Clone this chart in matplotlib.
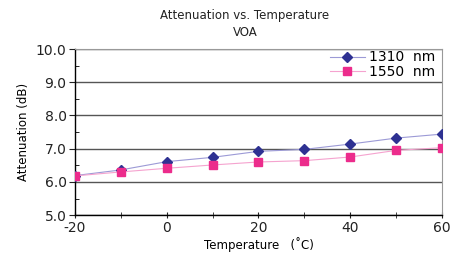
import matplotlib
matplotlib.use("Agg")
import matplotlib.pyplot as plt
from matplotlib.ticker import MultipleLocator

temps = [-20, -10, 0, 10, 20, 30, 40, 50, 60]
att_1310 = [6.19, 6.36, 6.61, 6.74, 6.92, 6.98, 7.14, 7.32, 7.44]
att_1550 = [6.18, 6.30, 6.41, 6.51, 6.60, 6.64, 6.75, 6.95, 7.03]
labels = ["1310  nm", "1550  nm"]
xticks = [-20, 0, 20, 40, 60]
xticklabels = ["-20", "0", "20", "40", "60"]
yticks = [5, 6, 7, 8, 9, 10]
yticklabels = ["5.0", "6.0", "7.0", "8.0", "9.0", "10.0"]

plt.rcParams['font.family'] = ['DejaVu Sans']
plt.rcParams['axes.unicode_minus'] = False
fig = plt.figure(figsize=(4.62, 2.57), dpi=100)
ax = fig.add_axes([0.162, 0.163, 0.795, 0.646])

ax.plot(temps, att_1310, color='#9c9ad6', lw=0.8, marker='D', ms=5,
        mfc='#2e3192', mec='#2e3192', label=labels[0], zorder=3)
ax.plot(temps, att_1550, color='#f5a3cf', lw=0.8, marker='s', ms=6,
        mfc='#ec2c8c', mec='#ec2c8c', label=labels[1], zorder=3)

ax.set_xlim(-20, 60)
ax.set_ylim(5.0, 10.0)
ax.set_xticks(xticks)
ax.set_xticklabels(xticklabels)
ax.xaxis.set_minor_locator(MultipleLocator(10))
ax.set_yticks(yticks)
ax.set_yticklabels(yticklabels)
ax.yaxis.set_minor_locator(MultipleLocator(0.5))

ax.grid(axis='y', which='major', color='#555555', lw=1.0)
ax.set_axisbelow(True)

for s in ['top', 'right']:
    ax.spines[s].set_color('#999999')
    ax.spines[s].set_linewidth(0.8)
for s in ['left', 'bottom']:
    ax.spines[s].set_color('black')
    ax.spines[s].set_linewidth(1.0)

ax.tick_params(axis='y', which='major', direction='out', length=4, labelsize=10, pad=2, colors='#222222')
ax.tick_params(axis='y', which='minor', direction='in', length=3)
ax.tick_params(axis='x', which='both', direction='inout', length=4, labelsize=10, pad=2, colors='#222222')

ax.set_xlabel("Temperature   (˚C)", fontsize=8.5, labelpad=2)
ax.set_ylabel("Attenuation (dB)", fontsize=8.5, labelpad=4)

fig.text(0.53, 0.94, "Attenuation vs. Temperature", ha='center', va='center', fontsize=8.5, color='#222222')
fig.text(0.53, 0.875, "VOA", ha='center', va='center', fontsize=8.5, color='#222222')

leg = ax.legend(loc='upper right', bbox_to_anchor=(0.985, 1.0), frameon=False, fontsize=10,
                handlelength=2.5, handletextpad=0.3, borderaxespad=0.0, borderpad=0.1,
                labelspacing=0.05)

fig.savefig("out.png", dpi=100, facecolor='white')
